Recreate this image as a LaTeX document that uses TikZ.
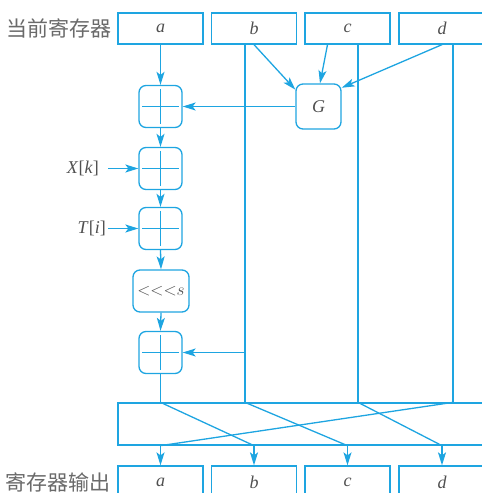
\documentclass[tikz,border=0pt]{standalone}
\usepackage{fontspec}
\setmainfont{Liberation Serif}
\newfontfamily\cjk{Noto Sans CJK SC}
\usetikzlibrary{arrows.meta,calc}
\definecolor{cyanline}{RGB}{30,165,225}
\definecolor{ink}{RGB}{80,80,80}
\begin{document}
\begin{tikzpicture}[x=1pt,y=-1pt,
  wire/.style={draw=cyanline,line width=1.3pt},
  flow/.style={wire,-{Stealth[length=13pt,width=8pt,inset=3pt]}},
  lbl/.style={inner sep=0pt,text=ink,font=\fontsize{18}{20}\selectfont\itshape},
  cjklbl/.style={inner sep=0pt,text=ink!85,font=\cjk\fontsize{21}{24}\selectfont},
  reg/.style={wire,rectangle,inner sep=0pt,minimum width=85pt,minimum height=31pt,
    text=ink,font=\fontsize{18}{20}\selectfont\itshape},
  opbox/.style={wire,rectangle,rounded corners=7pt,inner sep=0pt,
    minimum width=43pt,minimum height=42pt,text=ink,font=\fontsize{18}{20}\selectfont\itshape},
  adder/.style={opbox,path picture={
    \draw[wire]
      ($(path picture bounding box.north)!.08!(path picture bounding box.south)$) --
      ($(path picture bounding box.north)!.92!(path picture bounding box.south)$)
      ($(path picture bounding box.west)!.08!(path picture bounding box.east)$) --
      ($(path picture bounding box.west)!.92!(path picture bounding box.east)$);}},
]
\clip (0,0) rectangle (482,493);

% input registers
\node[reg] (a) at (160.5,28.5) {a};
\node[reg] (b) at (254,28.5) {b};
\node[reg] (c) at (347.5,28.5) {c};
\node[reg,minimum width=86pt] (d) at (442,28.5) {d};
\node[cjklbl,anchor=east] (inlbl) at (112,28.5) {当前寄存器};

% round function
\node[opbox,minimum width=45pt,minimum height=45pt] (G) at (318.5,106.5) {G};
\node[adder] (p1) at (160.5,106.5) {};
\node[adder] (p2) at (160.5,168.5) {};
\node[adder] (p3) at (160.5,228.5) {};
\node[opbox,minimum width=56pt,font=\fontsize{16}{18}\selectfont] (rot) at (161,291) {${<}{<}{<}s$};
\node[adder] (p4) at (160.5,352.5) {};

% external inputs
\coordinate (xk) at (108,168.5);
\coordinate (ti) at (108,228.5);
\node[lbl,anchor=east] (xl) at (99,168.5) {X\/\upshape[\itshape k\/\upshape]};
\node[lbl,anchor=east] (tl) at (106,228.5) {T\/\upshape[\itshape i\/\upshape]};

% permutation block and output registers
\node[wire,rectangle,minimum width=372pt,minimum height=42pt] (mix) at (304,424) {};
\node[reg,minimum height=32pt] (oa) at (160.5,482) {a};
\node[reg,minimum height=32pt] (ob) at (254,482) {b};
\node[reg,minimum height=32pt] (oc) at (347.5,482) {c};
\node[reg,minimum height=32pt,minimum width=86pt] (od) at (442,482) {d};
\node[cjklbl,anchor=east] (outlbl) at (111,482) {寄存器输出};

% column taps
\coordinate (bTop) at (245,44);
\coordinate (cTop) at (358,44);
\coordinate (dTop) at (453,44);
\coordinate (bTap) at (bTop |- p4.east);
\coordinate (ain) at (p4.south |- mix.north);
\coordinate (bin) at (bTop |- mix.north);
\coordinate (cin) at (cTop |- mix.north);
\coordinate (din) at (dTop |- mix.north);
\coordinate (aout) at (oa.north |- mix.south);
\coordinate (bout) at (ob.north |- mix.south);
\coordinate (cout) at (oc.north |- mix.south);
\coordinate (dout) at (od.north |- mix.south);

% pass-through columns
\draw[wire] (bTop) -- (bin);
\draw[wire] (cTop) -- (cin);
\draw[wire] (dTop) -- (din);

% inputs to G
\draw[flow] (b.south) -- (G.144);
\draw[flow] ($(c.south)+(-20,0)$) -- ($(G.north)+(1.5,0)$);
\draw[flow] (d.south) -- (G.39);

% main a-column
\draw[flow] (a.south) -- (p1.north);
\draw[flow] (G.west) -- (p1.east);
\draw[flow] (p1.south) -- (p2.north);
\draw[flow] (xk) -- (p2.west);
\draw[flow] (p2.south) -- (p3.north);
\draw[flow] (ti) -- (p3.west);
\draw[flow] (p3.south) -- (rot.north);
\draw[flow] (rot.south) -- (p4.north);
\draw[flow] (bTap) -- (p4.east);
\draw[wire] (p4.south) -- (ain);

% word rotation
\draw[wire] (ain) -- (bout);
\draw[wire] (bin) -- (cout);
\draw[wire] (cin) -- (dout);
\draw[wire] (din) -- (aout);

% outputs
\draw[flow] (aout) -- (oa.north);
\draw[flow] (bout) -- (ob.north);
\draw[flow] (cout) -- (oc.north);
\draw[flow] (dout) -- (od.north);
\end{tikzpicture}
\end{document}
